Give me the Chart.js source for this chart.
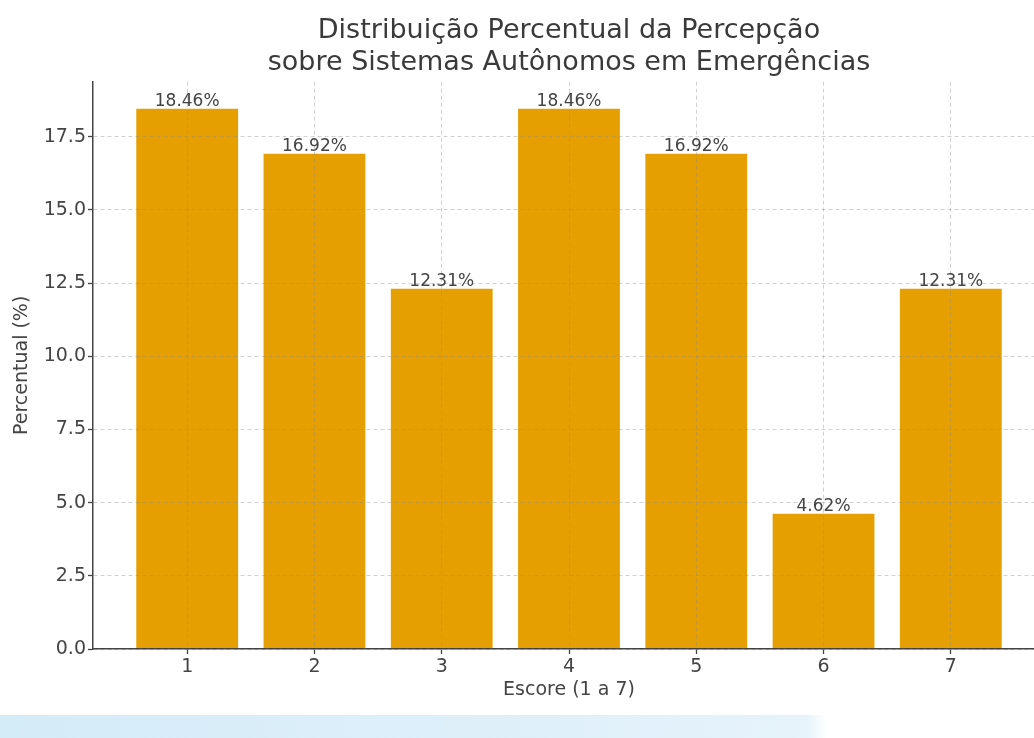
<!DOCTYPE html>
<html><head><meta charset="utf-8">
<script src="https://cdn.jsdelivr.net/npm/chart.js@4/dist/chart.umd.min.js"></script>
<style>
html,body{margin:0;padding:0;background:#fff;overflow:hidden;}
#wrap{position:absolute;left:0;top:0;width:1034px;height:738px;overflow:hidden;background:#fff;}
#box{position:absolute;left:0;top:0;width:1046px;height:738px;}
#band{position:absolute;left:0;top:715px;width:1034px;height:23px;background:linear-gradient(to right,#d4ebf8 0%,#e0f0fa 55%,#e6f3fb 78%,#ffffff 80%);}
</style></head><body>
<div id="wrap"><div id="box"><canvas id="c" width="1046" height="738"></canvas></div><div id="band"></div></div>
<script>
const titleLines = ['Distribuição Percentual da Percepção', 'sobre Sistemas Autônomos em Emergências'];
const xTitle = 'Escore (1 a 7)';
const yTitle = 'Percentual (%)';
const scores = [1, 2, 3, 4, 5, 6, 7];
const percents = [18.46, 16.92, 12.31, 18.46, 16.92, 4.62, 12.31];
const yTicks = [0, 2.5, 5, 7.5, 10, 12.5, 15, 17.5];

const FAM = '"DejaVu Sans", sans-serif';
const TXT = '#444444';

const valueLabels = {
  id: 'valueLabels',
  afterDraw(chart) {
    const ctx = chart.ctx;
    const meta = chart.getDatasetMeta(0);
    ctx.save();
    ctx.font = '17px ' + FAM;
    ctx.fillStyle = TXT;
    ctx.textAlign = 'center';
    ctx.textBaseline = 'bottom';
    meta.data.forEach((bar, i) => {
      ctx.fillText(percents[i].toFixed(2) + '%', bar.x, bar.y + 1);
    });
    ctx.restore();
  }
};

const gridOpts = {
  z: 1,
  offset: false,
  color: 'rgba(140,140,140,0.4)',
  lineWidth: 1,
  tickLength: 5,
  tickColor: '#444444',
  tickWidth: 1.3,
  tickBorderDash: []
};
const borderOpts = { display: true, color: '#444444', width: 1.5, dash: [4, 3], z: 2 };

new Chart(document.getElementById('c'), {
  type: 'bar',
  data: {
    datasets: [{
      data: scores.map((s, i) => ({ x: s, y: percents[i] })),
      backgroundColor: '#E69F00',
      borderWidth: 0,
      barPercentage: 0.8,
      categoryPercentage: 1.0
    }]
  },
  plugins: [valueLabels],
  options: {
    responsive: false,
    animation: false,
    devicePixelRatio: 1,
    layout: { padding: { left: 7, right: 1, top: 0, bottom: 33 } },
    plugins: {
      legend: { display: false },
      tooltip: { enabled: false },
      title: {
        display: true,
        text: titleLines,
        fullSize: false,
        color: '#3a3a3a',
        font: { family: FAM, size: 27, weight: 'normal', lineHeight: 1.18 },
        padding: { top: 15, bottom: 3 }
      }
    },
    scales: {
      x: {
        type: 'linear',
        offset: false,
        min: 0.26,
        max: 7.74,
        afterBuildTicks: s => { s.ticks = scores.map(v => ({ value: v })); },
        afterFit: s => { s.height = 56; },
        ticks: { font: { family: FAM, size: 19 }, color: TXT, padding: 2, callback: v => String(v) },
        grid: gridOpts,
        border: borderOpts,
        title: { display: true, text: xTitle, color: TXT, font: { family: FAM, size: 19 }, padding: { top: 4, bottom: 4 } }
      },
      y: {
        min: 0,
        max: 19.38,
        afterBuildTicks: s => { s.ticks = yTicks.map(v => ({ value: v })); },
        afterFit: s => { s.width = 86; },
        ticks: { font: { family: FAM, size: 19 }, color: TXT, padding: 2, callback: v => Number(v).toFixed(1) },
        grid: gridOpts,
        border: borderOpts,
        title: { display: true, text: yTitle, color: TXT, font: { family: FAM, size: 19 }, padding: { top: 4, bottom: 4 } }
      }
    }
  }
});
</script>
</body></html>
